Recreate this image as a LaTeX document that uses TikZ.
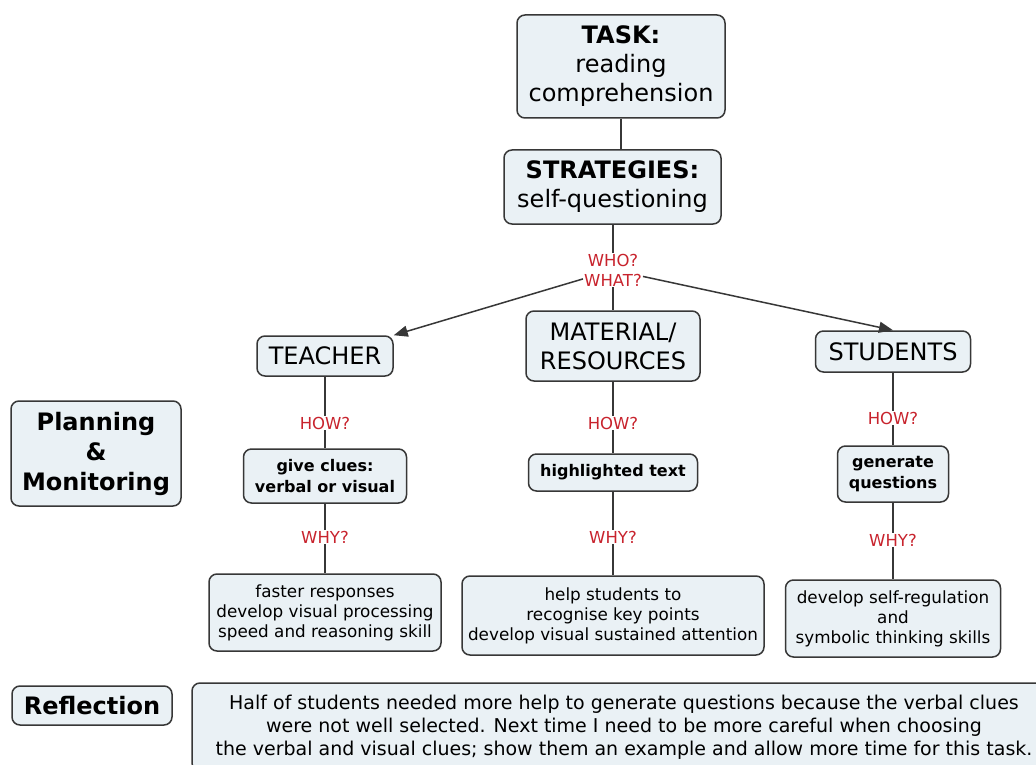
\documentclass[tikz,border=0pt]{standalone}
\usepackage{fontspec}
\setmainfont{DejaVu Sans}
\usetikzlibrary{arrows.meta}
\definecolor{boxfill}{RGB}{234,241,245}
\definecolor{boxline}{RGB}{55,55,55}
\definecolor{lblred}{RGB}{200,35,45}
\tikzset{
 concept/.style={draw=boxline, line width=1.5pt, fill=boxfill, rounded corners=8pt, align=center, inner sep=0pt},
 big/.style={font=\fontsize{24}{29}\selectfont},
 bigb/.style={font=\fontsize{24}{30}\selectfont\bfseries},
 midb/.style={font=\fontsize{16}{21}\selectfont\bfseries},
 small/.style={font=\fontsize{16.8}{20}\selectfont},
 refl/.style={font=\fontsize{19}{23}\selectfont},
 lbl/.style={text=lblred, font=\fontsize{16.5}{20}\selectfont, inner sep=1pt, align=center},
 link/.style={draw=boxline, line width=1.5pt},
 arr/.style={link, -{Triangle[length=14pt,width=11pt]}},
}
\begin{document}
\begin{tikzpicture}[x=1pt,y=-1pt]
\clip (0,0) rectangle (1036,765);
\fill[white] (0,0) rectangle (1036,765);
% nodes
\node[concept, big, minimum width=208pt, minimum height=103pt] (task) at (621,66.5) {\textbf{TASK:}\\reading\\comprehension};
\node[concept, big, minimum width=217pt, minimum height=74pt] (strat) at (612.5,187) {\textbf{STRATEGIES:}\\self-questioning};
\node[lbl] (who) at (613,270) {WHO?\\WHAT?};
\node[concept, big, minimum width=136pt, minimum height=40pt] (teacher) at (325,356) {TEACHER};
\node[concept, big, minimum width=174pt, minimum height=70pt] (mat) at (613,346) {MATERIAL/\\RESOURCES};
\node[concept, big, minimum width=155pt, minimum height=41pt] (stud) at (893,351.5) {STUDENTS};
\node[concept, bigb, minimum width=170pt, minimum height=105pt] (plan) at (96,453.5) {Planning\\\&\\Monitoring};
\node[lbl] (how1) at (325,423) {HOW?};
\node[lbl] (how2) at (613,423) {HOW?};
\node[lbl] (how3) at (893,418) {HOW?};
\node[concept, midb, minimum width=163pt, minimum height=54pt] (clues) at (325,476) {give clues:\\verbal or visual};
\node[concept, midb, minimum width=169pt, minimum height=37pt] (hilite) at (613,472.5) {highlighted text};
\node[concept, midb, minimum width=111pt, minimum height=56pt] (gen) at (893,474) {generate\\questions};
\node[lbl] (why1) at (325,537) {WHY?};
\node[lbl] (why2) at (613,537) {WHY?};
\node[lbl] (why3) at (893,540) {WHY?};
\node[concept, small, minimum width=232pt, minimum height=77pt] (faster) at (325,612.5) {faster responses\\develop visual processing\\speed and reasoning skill};
\node[concept, small, minimum width=302pt, minimum height=79pt] (helpst) at (613,615.5) {help students to\\recognise key points\\develop visual sustained attention};
\node[concept, small, minimum width=215pt, minimum height=77pt] (selfreg) at (893,618.5) {develop self-regulation\\and\\symbolic thinking skills};
\node[concept, bigb, minimum width=160pt, minimum height=39pt] (reflt) at (92,705.5) {Reflection};
\node[concept, refl, minimum width=864pt, minimum height=88pt] (reflx) at (624,727) {Half of students needed more help to generate questions because the verbal clues\\were not well selected. Next time I need to be more careful when choosing\\the verbal and visual clues; show them an example and allow more time for this task.};
% connectors
\draw[link] (task.south) -- (task.south |- strat.north);
\draw[link] (who.north |- strat.south) -- (who.north);
\draw[link] (who) -- (mat);
\draw[arr] (who) -- (teacher.north east);
\draw[arr] (who) -- (stud.north);
\draw[link] (teacher) -- (how1);
\draw[link] (how1) -- (clues);
\draw[link] (clues) -- (why1);
\draw[link] (why1) -- (faster);
\draw[link] (mat) -- (how2);
\draw[link] (how2) -- (hilite);
\draw[link] (hilite) -- (why2);
\draw[link] (why2) -- (helpst);
\draw[link] (stud) -- (how3);
\draw[link] (how3) -- (gen);
\draw[link] (gen) -- (why3);
\draw[link] (why3) -- (selfreg);
\end{tikzpicture}
\end{document}
